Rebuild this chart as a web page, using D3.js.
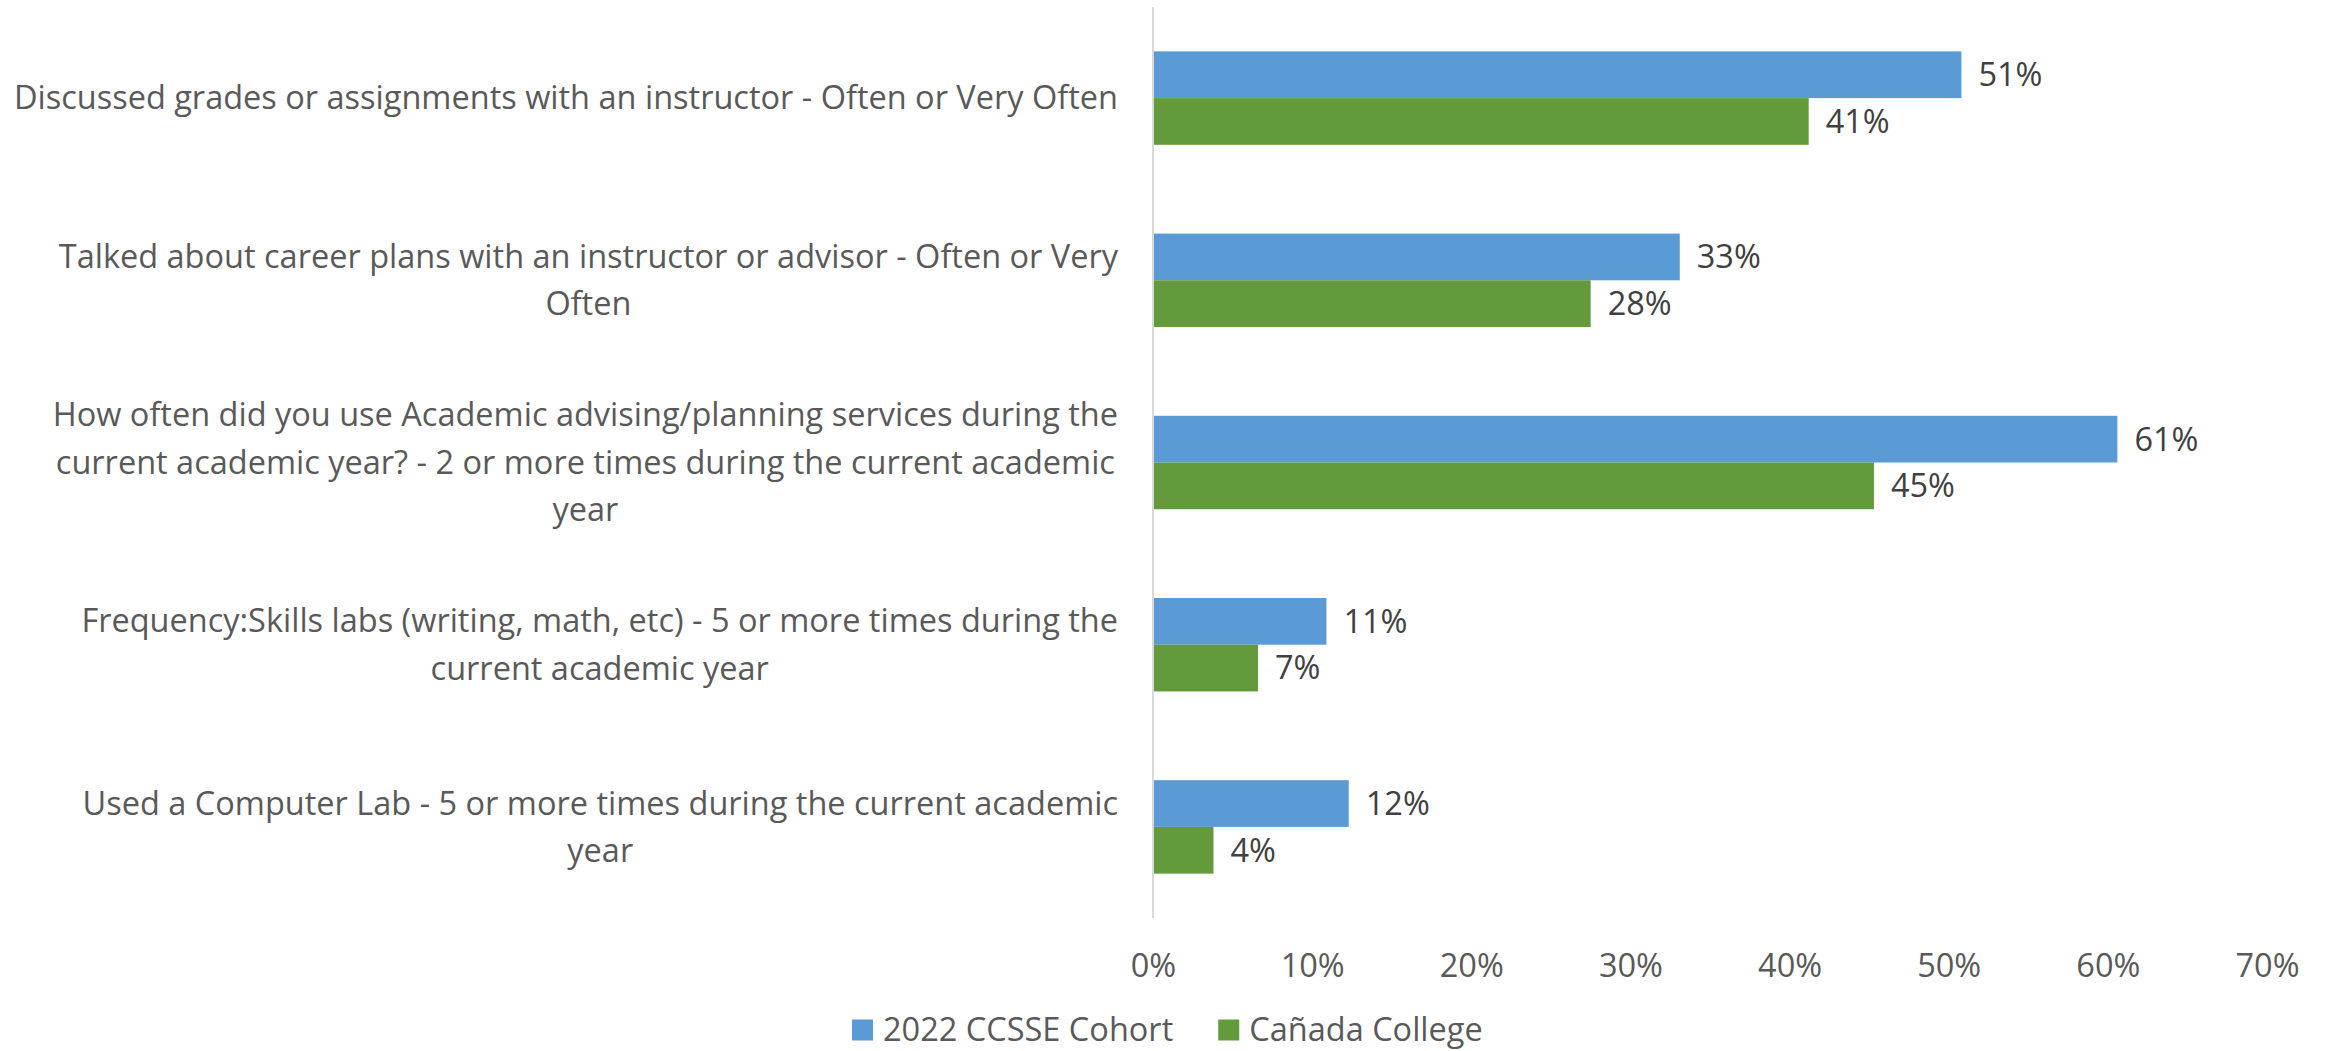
<!DOCTYPE html>
<meta charset="utf-8">
<style>
  body { margin: 0; background: #fff; }
  text { font-family: "Open Sans", sans-serif; }
</style>
<svg id="chart"></svg>
<script src="https://d3js.org/d3.v7.min.js"></script>
<script>
// data
var categories = [
  "Discussed grades or assignments with an instructor - Often or Very Often",
  "Talked about career plans with an instructor or advisor - Often or Very\nOften",
  "How often did you use Academic advising/planning services during the\ncurrent academic year? - 2 or more times during the current academic\nyear",
  "Frequency:Skills labs (writing, math, etc) - 5 or more times during the\ncurrent academic year",
  "Used a Computer Lab - 5 or more times during the current academic\nyear"
];
var seriesNames = ["2022 CCSSE Cohort", "Cañada College"];
var cohort = [50.8, 33.1, 60.6, 10.9, 12.3];
var canada = [41.2, 27.5, 45.3, 6.6, 3.8];
var tickValues = [0, 10, 20, 30, 40, 50, 60, 70];
var colors = ["#5b9bd5", "#629a3c"];

var W = 2328, H = 1051;
var svg = d3.select("#chart").attr("width", W).attr("height", H);

var x = d3.scaleLinear().domain([0, 70]).range([1153, 2267]);
var y = d3.scaleBand().domain(d3.range(categories.length)).range([7, 918]).paddingInner(0).paddingOuter(0);
var inner = d3.scaleBand().domain([0, 1]).range([0, y.bandwidth()]).paddingOuter(0.95).paddingInner(0);

var fs = 32.5;

// x axis ticks (no line)
var xAxis = d3.axisBottom(x).tickValues(tickValues).tickSize(0).tickFormat(function(d){ return d + "%"; });
var gx = svg.append("g").attr("transform", "translate(0,951)").call(xAxis);
gx.select(".domain").remove();
gx.selectAll("text").attr("fill", "#595959").style("font-size", fs + "px").style("font-family", "Open Sans").attr("dy", "0.71em");

// bars
var series = [cohort, canada];
series.forEach(function(vals, s) {
  svg.append("g").selectAll("rect").data(vals).join("rect")
    .attr("x", x(0))
    .attr("y", function(d, i){ return y(i) + inner(s); })
    .attr("width", function(d){ return x(d) - x(0); })
    .attr("height", inner.bandwidth())
    .attr("fill", colors[s]);
  svg.append("g").selectAll("text").data(vals).join("text")
    .attr("x", function(d){ return x(d) + 17; })
    .attr("y", function(d, i){ return y(i) + inner(s) + inner.bandwidth() / 2; })
    .attr("dy", "0.35em")
    .attr("fill", "#404040")
    .style("font-size", fs + "px")
    .text(function(d){ return Math.round(d) + "%"; });
});

// vertical axis line
svg.append("line").attr("x1", x(0)).attr("x2", x(0)).attr("y1", 7).attr("y2", 918)
  .attr("stroke", "#d9d9d9").attr("stroke-width", 2);

// category labels: block right aligned, lines centred inside block
var lineH = 47.5, labelRight = 1118;
categories.forEach(function(c, i) {
  var lines = c.split("\n");
  var g = svg.append("g");
  var cy = y(i) + y.bandwidth() / 2;
  var texts = lines.map(function(l, k) {
    return g.append("text")
      .attr("y", cy + (k - (lines.length - 1) / 2) * lineH)
      .attr("dy", "0.35em")
      .attr("fill", "#595959")
      .attr("text-anchor", "middle")
      .style("font-size", fs + "px")
      .text(l);
  });
  var maxW = d3.max(texts, function(t){ return t.node().getComputedTextLength(); });
  texts.forEach(function(t){ t.attr("x", labelRight - maxW / 2); });
});

// legend
var leg = svg.append("g").attr("transform", "translate(852,1030)");
var offs = 0;
seriesNames.forEach(function(n, s) {
  var gg = leg.append("g").attr("transform", "translate(" + offs + ",0)");
  gg.append("rect").attr("x", 0).attr("y", -10.5).attr("width", 21).attr("height", 21).attr("fill", colors[s]);
  var t = gg.append("text").attr("x", 31).attr("dy", "0.35em").attr("fill", "#595959")
    .style("font-size", fs + "px").text(n);
  offs += 31 + t.node().getComputedTextLength() + 45;
});
</script>
